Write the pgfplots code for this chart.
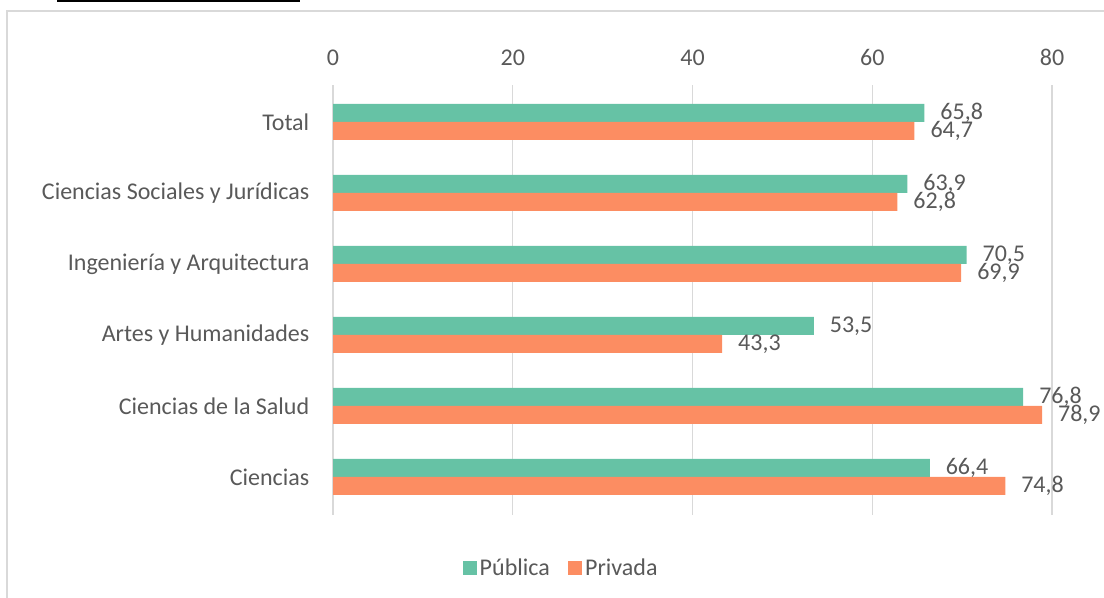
\documentclass[border=0pt]{standalone}
\usepackage{pgfplots}
\pgfplotsset{compat=1.18}
\usepackage{fontspec}
\setmainfont{Carlito}
\definecolor{pub}{HTML}{66C2A5}
\definecolor{priv}{HTML}{FC8D62}
\definecolor{txt}{HTML}{595959}
\definecolor{grd}{HTML}{D9D9D9}
\begin{document}
\begin{tikzpicture}
\path[use as bounding box] (0pt,0pt) rectangle (828pt,448.5pt);
\draw[grd, line width=1.1pt] (5.25pt,-20pt) -- (5.25pt,440.25pt) -- (850pt,440.25pt);
\draw[black, line width=2pt] (42.75pt,447.9pt) -- (225pt,447.9pt);
\begin{axis}[
  at={(249.75pt,62.25pt)}, anchor=south west,
  scale only axis, width=539.25pt, height=322.5pt,
  xbar, bar width=13.5pt,
  xmin=0, xmax=80, ymin=-0.535, ymax=5.52,
  xtick={0,20,40,60,80},
  ytick={0,1,2,3,4,5},
  yticklabels={Ciencias, Ciencias de la Salud, Artes y Humanidades, Ingeniería y Arquitectura, Ciencias Sociales y Jurídicas, Total},
  xticklabel pos=right,
  xmajorgrids, major grid style={grd, line width=1.1pt},
  axis line style={draw=none}, major tick style={draw=none},
  tick label style={font=\fontsize{18}{21}\selectfont, text=txt},
  xticklabel style={yshift=11pt},
  yticklabel style={xshift=-10pt},
  /pgf/number format/assume math mode=true,
  /pgf/number format/use comma,
  nodes near coords,
  nodes near coords style={font=\fontsize{18}{21}\selectfont, text=txt, anchor=west, xshift=8.5pt,
    /pgf/number format/fixed, /pgf/number format/precision=1, /pgf/number format/fixed zerofill, /pgf/number format/use comma, /pgf/number format/assume math mode=true},
  legend style={at={(0.318,-0.123)}, anchor=center, draw=none, legend columns=2,
    font=\fontsize{18}{21}\selectfont, text=txt, /tikz/every even column/.append style={column sep=12pt}},
  legend image code/.code={\fill[#1] (0pt,-5pt) rectangle (10.5pt,5pt);},
  clip=false
]
\addplot[fill=pub, draw=none, bar shift=6.75pt] coordinates {(66.4,0) (76.8,1) (53.5,2) (70.5,3) (63.9,4) (65.8,5)};
\addplot[fill=priv, draw=none, bar shift=-6.75pt] coordinates {(74.8,0) (78.9,1) (43.3,2) (69.9,3) (62.8,4) (64.7,5)};
\legend{Pública, Privada}
\end{axis}
\end{tikzpicture}
\end{document}
